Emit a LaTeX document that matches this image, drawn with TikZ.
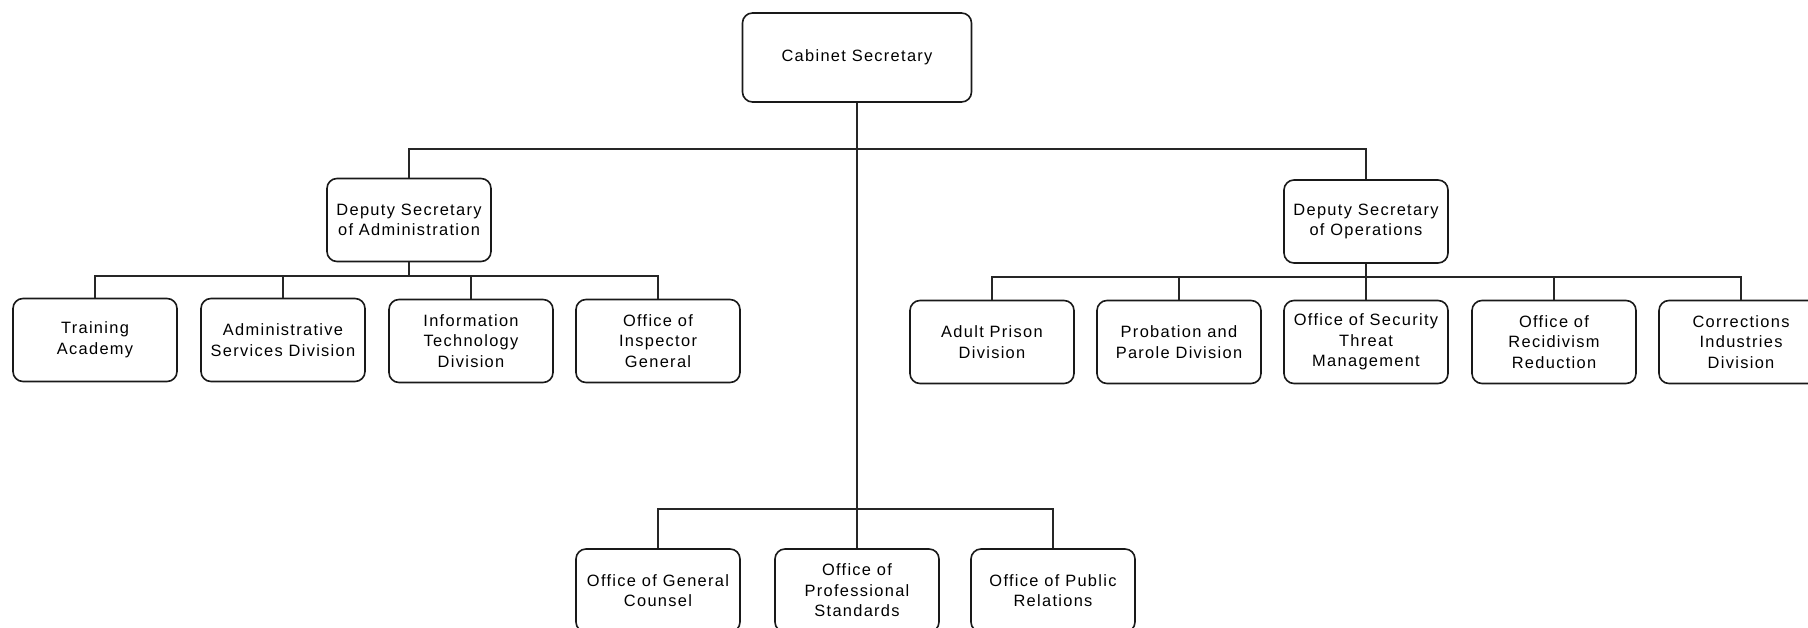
\documentclass[tikz,border=0pt]{standalone}
\usepackage{fontspec}
\setmainfont{Liberation Sans}[LetterSpace=8]
\begin{document}
\begin{tikzpicture}[x=1pt,y=-1pt,
  orgbox/.style={draw=black!90, line width=1.6pt, rounded corners=10pt,
    minimum width=164pt, minimum height=83pt, align=center, inner sep=2pt,
    text=black, font=\fontsize{16.4pt}{20.5pt}\selectfont},
  link/.style={draw=black!85, line width=1.4pt}]
\useasboundingbox (0,0) rectangle (1808,628);
\clip (0,0) rectangle (1808,628);

% top level
\node[orgbox, minimum width=229pt, minimum height=89pt] (cab) at (857,57.5) {Cabinet Secretary};

% deputy secretaries
\node[orgbox] (da) at (409,220) {Deputy Secretary\\of Administration};
\node[orgbox] (do) at (1366,221.5) {Deputy Secretary\\of Operations};

% administration divisions
\node[orgbox] (ta)  at (95,340)  {Training\\Academy};
\node[orgbox] (asd) at (283,340) {Administrative\\Services Division};
\node[orgbox] (itd) at (471,341) {Information\\Technology\\Division};
\node[orgbox] (oig) at (658,341) {Office of\\Inspector\\General};

% operations divisions
\node[orgbox] (apd) at (992,342)  {Adult Prison\\Division};
\node[orgbox] (ppd) at (1179,342) {Probation and\\Parole Division};
\node[orgbox] (ost) at (1366,342) {Office of Security\\Threat\\Management};
\node[orgbox] (orr) at (1554,342) {Office of\\Recidivism\\Reduction};
\node[orgbox] (cid) at (1741,342) {Corrections\\Industries\\Division};

% offices reporting to the cabinet secretary
\node[orgbox] (ogc) at (658,590.5)  {Office of General\\Counsel};
\node[orgbox] (ops) at (857,590.5)  {Office of\\Professional\\Standards};
\node[orgbox] (opr) at (1053,590.5) {Office of Public\\Relations};

% bus lines
\coordinate (topbus) at (857,149);
\coordinate (abus) at (409,276);
\coordinate (obus) at (1366,277);
\coordinate (bbus) at (857,509);

\draw[link] (cab.south) -- (ops.north);
\draw[link] (da.north) |- (topbus);
\draw[link] (do.north) |- (topbus);

\draw[link] (da.south) -- (abus);
\foreach \n in {ta,asd,itd,oig} \draw[link] (\n.north) |- (abus);

\draw[link] (do.south) -- (obus);
\foreach \n in {apd,ppd,ost,orr,cid} \draw[link] (\n.north) |- (obus);

\foreach \n in {ogc,opr} \draw[link] (\n.north) |- (bbus);
\end{tikzpicture}
\end{document}
